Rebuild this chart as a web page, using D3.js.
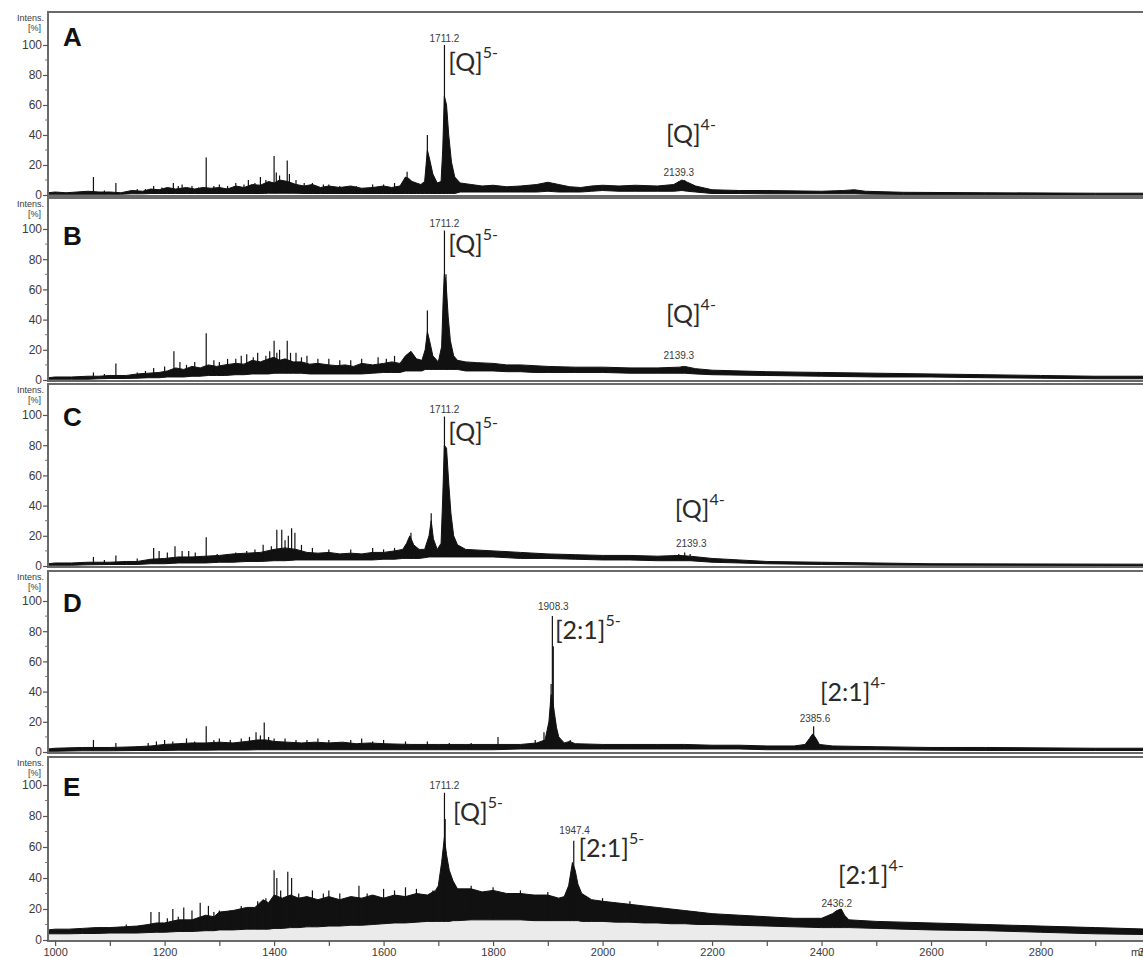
<!DOCTYPE html>
<html>
<head>
<meta charset="utf-8">
<script src="https://cdn.jsdelivr.net/npm/d3@7"></script>
<style>
  body { margin: 0; background: #fff; }
  svg { display: block; }
  .num { font-family: "Liberation Sans", Arial, sans-serif; fill: #3a3a3a; }
  .ion { font-family: Lato, "Open Sans", sans-serif; fill: #2a2a2a; }
</style>
</head>
<body>
<svg id="chart" width="1143" height="957"></svg>
<script>
// ---- data: [m/z, lower edge %, upper edge %] of the dense trace ----
var envA = [[987,0.5,1.5],[1000,0.5,2],[1020,0.5,1.5],[1040,0.5,2],[1060,0.5,2.5],[1080,0.5,2],[1100,0.5,2],
  [1120,0.5,1.5],[1140,0.8,3],[1160,0.8,2.5],[1175,1,4],[1190,1,3.5],[1205,1,5],[1220,1,4],[1240,1,5],
  [1255,1,4],[1270,1,5],[1285,1,4.5],[1300,1,5],[1315,1,4],[1330,1,6],[1345,1,5],[1360,1,7],[1375,1,6.5],
  [1390,1.2,9],[1400,1.2,8],[1410,1.2,10],[1425,1.2,9],[1440,1.2,7],[1455,1,6],[1470,1,7],[1485,1,5],
  [1500,1,6],[1520,1,5],[1540,1,6],[1560,1,4.5],[1580,1,5],[1600,1,6],[1615,1,5],[1630,1,6],[1640,1,12],
  [1646,1,11],[1652,1,9],[1660,1,8],[1668,1,7],[1675,1,9],[1680,1,30],[1684,1,24],[1690,1,14],[1698,1,8],
  [1705,1,9],[1708,1,30],[1711,1,66],[1715,1,60],[1719,1,40],[1724,1,22],[1730,1,12],[1740,2,8],[1760,2,7],
  [1780,2,6],[1800,2,6.5],[1825,2,5.5],[1850,2,6],[1880,2,7],[1900,2.5,8.5],[1920,2,7],[1940,2,5.5],
  [1960,2,5],[1980,2.5,6],[2000,3,6.5],[2030,2.5,6],[2060,2.5,6.5],[2100,2.5,6],[2130,2.5,7],[2145,3,10],
  [2155,2.5,8.5],[2170,2,6],[2200,1,3.5],[2250,1,3],[2300,0.8,3],[2400,0.8,2.5],[2440,0.8,3],[2460,0.8,3.5],
  [2480,0.6,2.5],[2550,0.4,1.8],[2700,0.4,1.5],[2900,0.3,1.2],[3000,0.3,1.2]];
var spikesA = [[1070,12],[1090,3],[1111,8],[1150,4],[1165,4],[1180,6],[1195,5],[1216,8],[1225,6],[1232,7],
  [1250,6],[1262,5],[1276,25],[1290,6],[1300,7],[1315,6],[1330,8],[1345,7],[1353,10],[1365,8],[1375,12],
  [1385,10],[1400,26],[1404,15],[1410,13],[1424,23],[1428,14],[1440,10],[1455,8],[1470,8],[1490,7],[1500,7],
  [1520,6],[1550,6],[1580,7],[1600,7],[1620,8],[1643,15.5],[1680,40],[1711.2,100],[2139.3,9],[2150,10]];

var envB = [[987,0.5,1.5],[1000,0.5,2],[1030,0.5,2],[1060,0.5,2.5],[1080,0.8,2.5],[1100,1,3],[1130,1,3],
  [1150,1.2,4],[1170,1.5,4.5],[1190,1.5,5],[1205,2,6],[1220,2,8],[1235,2,7],[1250,2.5,9],[1265,2.5,8],
  [1280,3,10],[1295,3,9],[1310,3,10],[1330,3.5,11],[1345,3.5,10.5],[1360,4,13],[1375,4,12],[1390,4,14],
  [1400,4.5,15],[1410,4.5,13],[1420,4.5,14],[1435,4.5,12],[1450,4.5,12],[1465,4,10.5],[1480,4,11],[1500,4,10],
  [1515,4,9.5],[1530,4,10],[1545,4,9],[1560,4,11],[1580,4.5,10],[1600,5,11],[1615,5,12],[1630,5,11],
  [1640,6,16],[1650,6,19],[1660,6,14],[1670,6,13],[1676,7,20],[1680,7,32],[1684,7,26],[1690,7,16],[1700,7,12],
  [1706,7,22],[1709,7,55],[1711,7,70],[1714,7,65],[1718,7,42],[1722,7,26],[1728,7,16],[1735,7,13],[1750,6,12],
  [1770,6,11.5],[1800,6,11],[1825,5.5,10],[1850,5.5,10],[1875,5,9.5],[1900,5,9],[1950,5,8.5],[2000,5,8.5],
  [2050,4.5,8],[2100,4.5,8],[2140,4.5,8.5],[2150,4.5,9],[2170,4,7.5],[2200,3.5,6.5],[2300,3,5.5],[2400,2.5,5],
  [2500,2,4.5],[2600,2,4],[2700,1.5,3.5],[2800,1.2,3],[2900,0.8,2.5],[3000,0.8,2.5]];
var spikesB = [[1070,5],[1090,4],[1111,11],[1150,5],[1165,6],[1180,8],[1200,9],[1217,19],[1228,12],[1240,10],
  [1255,12],[1276,31],[1290,13],[1300,12],[1315,14],[1330,14],[1340,16],[1350,17],[1362,15],[1370,18],
  [1385,16],[1392,19],[1400,26],[1405,18],[1410,20],[1424,26],[1430,18],[1440,18],[1450,15],[1460,16],
  [1480,14],[1500,14],[1520,13],[1540,13],[1560,14],[1590,15],[1605,14],[1620,16],[1680,46],[1711.2,99],
  [1714,70],[2139.3,8],[2145,9]];

var envC = [[987,0.5,1.5],[1000,0.5,2],[1030,0.5,2],[1060,0.8,2.5],[1100,1,2.5],[1130,1,3],[1150,1,3],
  [1175,1.5,4.5],[1200,1.5,5],[1225,2,6],[1250,2,6],[1275,2,6.5],[1300,2.5,7],[1325,2.5,8],[1350,3,8.5],
  [1375,3,9],[1400,3.5,11],[1420,3.5,12],[1440,4,11],[1460,4,9],[1480,4,8.5],[1500,4,9],[1520,4,8],
  [1540,4,8.5],[1560,4,8],[1580,4,9],[1600,4.5,9],[1620,4.5,10],[1635,5,11],[1642,5,15],[1648,5,20],
  [1655,5,14],[1665,5,11],[1675,5.5,11],[1683,6,20],[1687,6,30],[1691,6,18],[1698,6,11],[1705,6,15],
  [1708,6,45],[1711,6,80],[1715,6,78],[1719,6,55],[1723,6,35],[1728,6,20],[1735,6,14],[1750,6,11],
  [1800,6,10],[1850,5,9],[1900,5,8],[1950,4.5,7.5],[2000,4,7],[2050,4,7],[2100,3.5,6.5],[2140,3.5,7],
  [2160,3.5,6.5],[2200,2.5,5],[2250,2,4],[2300,1.5,3],[2400,1,2.5],[2500,0.6,2],[2600,0.5,1.5],[3000,0.3,1.2]];
var spikesC = [[1070,6],[1090,4],[1111,7],[1150,5],[1180,12],[1190,10],[1205,9],[1219,13],[1232,10],
  [1244,10],[1256,9],[1276,19],[1296,8],[1314,8],[1330,9],[1350,10],[1365,11],[1380,14],[1395,13],[1405,24],
  [1414,24],[1420,17],[1426,20],[1432,25],[1438,22],[1450,14],[1470,12],[1500,11],[1540,11],[1580,12],
  [1600,11],[1620,12],[1650,22],[1687,35],[1711.2,99],[2139.3,8],[2150,9],[2160,8]];

var envD = [[987,0.5,2],[1000,0.5,2.5],[1050,0.8,3],[1100,0.8,3],[1150,1,3.5],[1175,1,4],[1200,1,5],
  [1225,1.2,5.5],[1250,1.2,6],[1275,1.2,6],[1300,1.3,6.5],[1325,1.3,6],[1350,1.3,7],[1370,1.5,8],[1385,1.5,8],
  [1400,1.5,7],[1425,1.5,6.5],[1450,1.5,6],[1475,1.5,6.5],[1500,1.5,6],[1525,1.5,6.5],[1550,1.5,5.5],
  [1575,1.5,6],[1600,1.5,5.5],[1650,1.5,5],[1700,1.5,5],[1750,1.5,5],[1800,1.5,5],[1850,2,5],[1880,2,6],
  [1895,2,8],[1902,2,20],[1906,2,38],[1909,2,34],[1912,2,26],[1916,2,16],[1920,2,10],[1930,2,6],[1940,2,7],
  [1950,2,5.5],[2000,2,5],[2050,2,5],[2100,2,5],[2150,2,5],[2200,2,4.5],[2250,2,4.5],[2300,1.5,4],[2350,1.5,4],
  [2370,1.5,5],[2378,1.5,9],[2384,1.5,12],[2390,1.5,9],[2396,1.5,5],[2420,1.5,4],[2500,1.5,3.5],[2600,1.2,3],
  [2700,1,3],[2900,1,2.5],[3000,1,2.5]];
var spikesD = [[1070,8],[1111,6],[1150,4],[1170,6],[1185,7],[1200,8],[1215,7],[1240,9],[1255,7],[1276,17],
  [1290,8],[1300,9],[1320,8],[1340,9],[1355,10],[1367,13],[1375,11],[1382,19.5],[1390,10],[1400,9],[1420,9],
  [1440,8],[1460,8],[1480,9],[1500,8],[1540,8],[1560,9],[1580,7],[1600,8],[1640,7],[1680,7],[1720,6],[1760,6],
  [1809,10],[1877,8],[1893,13],[1906,45],[1908.3,90],[1910,70],[1941,8],[2380,10],[2385.6,17]];

var envE = [[987,4,6.5],[1000,4,7],[1025,4,7],[1050,4.2,7.5],[1075,4.2,8],[1100,4.5,8],[1125,4.5,8.5],
  [1150,4.5,9],[1170,4.8,10],[1185,5,11],[1200,5,11],[1225,5.5,13],[1250,5.5,13],[1275,6,16],[1290,6,15],
  [1300,6.5,18],[1325,6.5,19],[1350,7,21],[1365,7,21],[1380,7,26],[1390,7,24],[1400,7.5,29],[1415,7.5,27],
  [1430,8,29],[1445,8,27],[1460,8.5,28],[1480,8.5,26],[1500,9,28],[1520,9,26],[1540,9.5,28],[1560,9.5,27],
  [1580,10,29],[1600,10.5,27],[1620,11,29],[1640,11,28],[1660,11.5,30],[1680,12,29],[1695,12,32],[1700,12,35],
  [1706,12,50],[1711,12,66],[1715,12,55],[1720,12,45],[1727,12.5,38],[1735,12.5,33],[1760,13,33],[1780,13,31],
  [1800,13,32],[1825,13,30],[1850,13,30],[1875,12.5,29],[1900,12.5,29],[1920,12.5,27],[1930,12.5,28],
  [1938,12.5,35],[1945,12.5,50],[1950,12.5,45],[1955,12.5,36],[1962,12,30],[1980,12,26],[2000,12,25],
  [2025,11.5,24],[2050,11.5,23],[2075,11,22],[2100,11,21],[2125,10.5,20],[2150,10.5,19],[2175,10,18],
  [2200,10,17],[2250,9.5,16],[2300,9,15],[2350,8.5,14],[2400,8,14],[2420,8,17],[2428,8,19],[2436,8,20],
  [2442,8,16],[2450,8,13],[2500,7.5,12],[2600,6.5,11],[2700,6,10],[2800,5,9],[2900,4,8],[3000,3.5,7]];
var spikesE = [[1130,10],[1175,18],[1190,18],[1205,14],[1215,20],[1225,15],[1235,21],[1250,19],[1265,24],
  [1280,22],[1290,18],[1300,19],[1320,19],[1340,22],[1355,21],[1370,25],[1385,27],[1400,45],[1405,40],
  [1412,32],[1425,44],[1432,40],[1445,30],[1470,32],[1490,30],[1500,32],[1520,30],[1555,35],[1570,30],
  [1600,33],[1620,32],[1640,34],[1660,33],[1690,32],[1711.2,95],[1712.5,78],[1760,35],[1800,34],[1850,32],
  [1900,31],[1940,36],[1947.4,64],[2000,27],[2050,25],[2436.2,20]];

// peak number labels: [text, m/z, intensity of baseline]
var peakLabelsA = [['1711.2',1711.2,102],['2139.3',2139.3,12.5]];
var peakLabelsB = [['1711.2',1711.2,101],['2139.3',2139.3,14]];
var peakLabelsC = [['1711.2',1711.2,101],['2139.3',2162,12.5]];
var peakLabelsD = [['1908.3',1910,94],['2385.6',2388,20]];
var peakLabelsE = [['1711.2',1711.2,97.5],['1947.4',1949,68.5],['2436.2',2428,21]];

// ion labels: [main text, superscript, m/z of left edge, intensity of baseline]
var ionsA = [['[Q]','5-',1718,83],['[Q]','4-',2116,35]];
var ionsB = [['[Q]','5-',1718,84],['[Q]','4-',2116,38]];
var ionsC = [['[Q]','5-',1718,83],['[Q]','4-',2132,32]];
var ionsD = [['[2:1]','5-',1913,75],['[2:1]','4-',2397,34]];
var ionsE = [['[Q]','5-',1727,77],['[2:1]','5-',1956,53.5],['[2:1]','4-',2430,36]];

var letters = ['A','B','C','D','E'];
var yTicks = [0,20,40,60,80,100];
var xTicks = d3.range(1000, 3001, 100);

// ---- layout ----
var tops = [12, 198, 384, 571, 757];
var zeros = [195, 380, 566, 752, 940];
var hundreds = [45, 229, 415, 601, 785];
var letterY = [46, 245, 426, 612, 796];
var left = 48, right = 1150;

var panels = [
  {env: envA, spikes: spikesA, peaks: peakLabelsA, ions: ionsA},
  {env: envB, spikes: spikesB, peaks: peakLabelsB, ions: ionsB},
  {env: envC, spikes: spikesC, peaks: peakLabelsC, ions: ionsC},
  {env: envD, spikes: spikesD, peaks: peakLabelsD, ions: ionsD},
  {env: envE, spikes: spikesE, peaks: peakLabelsE, ions: ionsE}
];

var svg = d3.select('#chart');
var x = d3.scaleLinear().domain([987, 3000]).range([left, right]);

panels.forEach(function (p, i) {
  var y = d3.scaleLinear().domain([0, 100]).range([zeros[i], hundreds[i]]);
  var g = svg.append('g');

  g.append('clipPath').attr('id', 'clip' + i)
    .append('rect').attr('x', left).attr('y', tops[i]).attr('width', right - left).attr('height', zeros[i] - tops[i]);

  var plot = g.append('g').attr('clip-path', 'url(#clip' + i + ')');

  // lower edge of the trace, used to start each spike on it
  var loAt = d3.scaleLinear().domain(p.env.map(function (d) { return d[0]; })).range(p.env.map(function (d) { return d[1]; }));

  // faint grey fill under the dense trace (only visible on the bottom panel)
  if (i === panels.length - 1) {
    plot.append('path')
      .datum(p.env)
      .attr('fill', '#ebebeb')
      .attr('d', d3.area().x(function (d) { return x(d[0]); }).y0(y(0)).y1(function (d) { return y(d[1]); }));
  }

  plot.append('path')
    .datum(p.env)
    .attr('fill', '#111')
    .attr('stroke', '#111')
    .attr('stroke-width', 1)
    .attr('stroke-linejoin', 'round')
    .attr('d', d3.area().x(function (d) { return x(d[0]); })
      .y0(function (d) { return y(d[1]); }).y1(function (d) { return y(d[2]); }));

  plot.selectAll('line.spike')
    .data(p.spikes)
    .enter().append('line')
    .attr('class', 'spike')
    .attr('x1', function (d) { return x(d[0]); })
    .attr('x2', function (d) { return x(d[0]); })
    .attr('y1', function (d) { return y(loAt(d[0])); })
    .attr('y2', function (d) { return y(d[1]); })
    .attr('stroke', '#111')
    .attr('stroke-width', 1.2);

  // frame: top line, left axis line, zero line
  g.append('line').attr('x1', left - 1).attr('x2', right).attr('y1', tops[i]).attr('y2', tops[i])
    .attr('stroke', '#6a6a6a').attr('stroke-width', 2);
  g.append('line').attr('x1', left).attr('x2', left).attr('y1', tops[i]).attr('y2', zeros[i] + 1)
    .attr('stroke', '#6a6a6a').attr('stroke-width', 2);
  g.append('line').attr('x1', left - 1).attr('x2', right).attr('y1', zeros[i] + 1).attr('y2', zeros[i] + 1)
    .attr('stroke', '#6a6a6a').attr('stroke-width', 2);

  // y axis
  var ya = g.append('g').attr('transform', 'translate(' + left + ',0)')
    .call(d3.axisLeft(y).tickValues(yTicks).tickSize(5).tickPadding(1));
  ya.select('.domain').remove();
  ya.selectAll('.tick line').attr('stroke', '#555').attr('stroke-width', 1.2);
  ya.selectAll('.tick text').attr('class', 'num').style('font-size', '12px');
  g.selectAll('line.minor')
    .data(d3.range(10, 101, 20))
    .enter().append('line')
    .attr('x1', left - 3).attr('x2', left)
    .attr('y1', function (d) { return y(d); }).attr('y2', function (d) { return y(d); })
    .attr('stroke', '#777').attr('stroke-width', 1);

  g.append('text').attr('class', 'num').attr('x', 44).attr('y', tops[i] + 9)
    .attr('text-anchor', 'end').style('font-size', '9px').text('Intens.');
  g.append('text').attr('class', 'num').attr('x', 41).attr('y', tops[i] + 19)
    .attr('text-anchor', 'end').style('font-size', '9px').text('[%]');

  // panel letter
  g.append('text').attr('x', 63).attr('y', letterY[i])
    .style('font-family', '"Liberation Sans", Arial, sans-serif')
    .style('font-weight', 'bold').style('font-size', '26px').attr('fill', '#111')
    .text(letters[i]);

  // peak m/z labels
  g.selectAll('text.peak')
    .data(p.peaks)
    .enter().append('text')
    .attr('class', 'num')
    .attr('x', function (d) { return x(d[1]); })
    .attr('y', function (d) { return y(d[2]); })
    .attr('text-anchor', 'middle')
    .style('font-size', '10px')
    .text(function (d) { return d[0]; });

  // ion labels with charge superscript
  var ion = g.selectAll('text.ionlabel')
    .data(p.ions)
    .enter().append('text')
    .attr('class', 'ion')
    .attr('x', function (d) { return x(d[2]); })
    .attr('y', function (d) { return y(d[3]); });
  ion.append('tspan').style('font-size', '25px').text(function (d) { return d[0]; });
  ion.append('tspan').style('font-size', '16px').attr('dy', -13).text(function (d) { return d[1]; });

  // m/z axis only shows on the bottom panel
  if (i === panels.length - 1) {
    var xa = g.append('g').attr('transform', 'translate(0,' + (zeros[i] + 1) + ')')
      .call(d3.axisBottom(x).tickValues(xTicks).tickSize(5).tickPadding(2)
        .tickFormat(function (d) { return d % 200 === 0 ? d : ''; }));
    xa.select('.domain').remove();
    xa.selectAll('.tick line').attr('stroke', '#555').attr('stroke-width', 1.2);
    xa.selectAll('.tick text').attr('class', 'num').style('font-size', '11px');
    g.append('text').attr('class', 'num').attr('x', 1131).attr('y', zeros[i] + 16)
      .style('font-size', '11px').text('m/z');
  }
});
</script>
</body>
</html>
